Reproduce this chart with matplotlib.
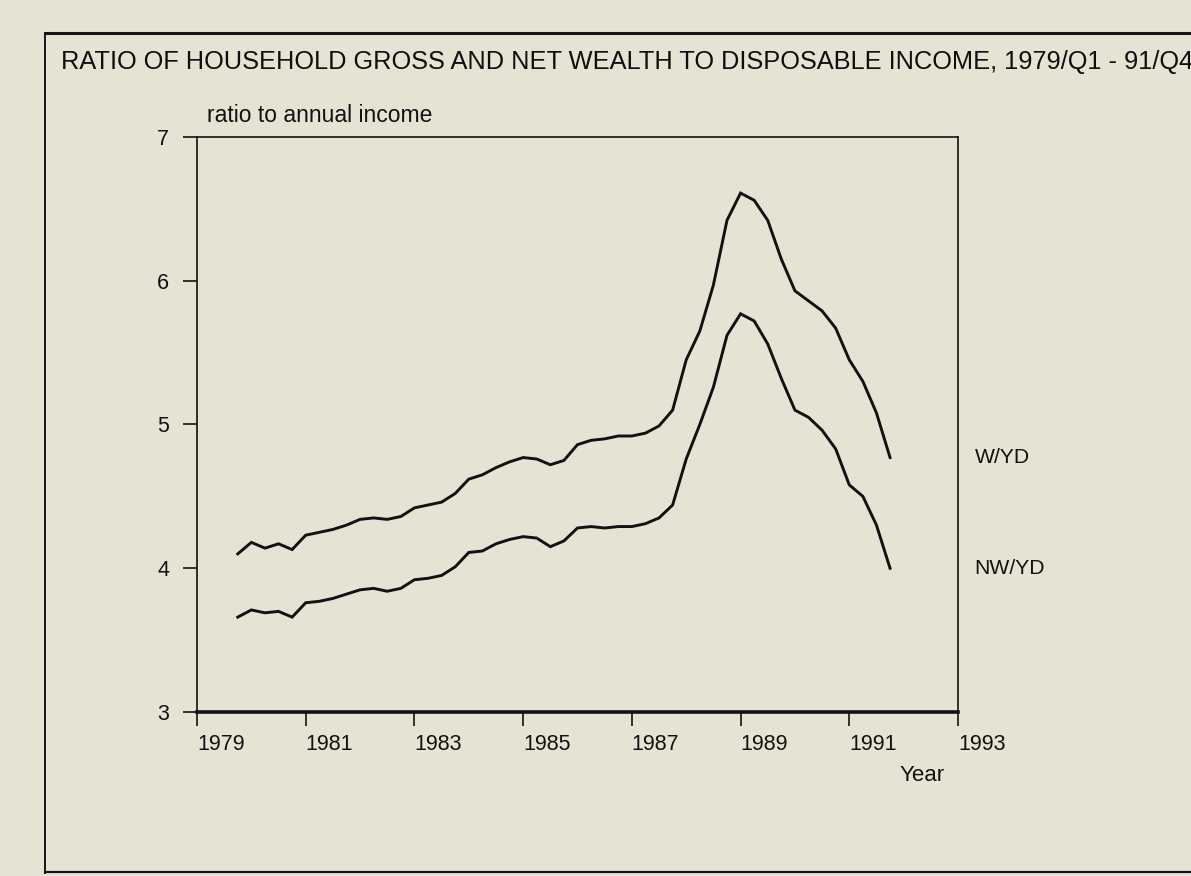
import matplotlib
matplotlib.use("Agg")
import matplotlib.pyplot as plt
import pandas as pd
from matplotlib.lines import Line2D

plt.rcParams['font.family'] = ['Liberation Sans', 'DejaVu Sans']

BG = '#e5e4d4'

# quarterly observations, 1979Q4 .. 1991Q4
QUARTERS = pd.period_range('1979Q4', '1991Q4', freq='Q')
W_YD = [4.10, 4.18, 4.14, 4.17, 4.13,
        4.23, 4.25, 4.27, 4.30,
        4.34, 4.35, 4.34, 4.36,
        4.42, 4.44, 4.46, 4.52,
        4.62, 4.65, 4.70, 4.74,
        4.77, 4.76, 4.72, 4.75,
        4.86, 4.89, 4.90, 4.92,
        4.92, 4.94, 4.99, 5.10,
        5.45, 5.65, 5.97, 6.42,
        6.61, 6.56, 6.42, 6.15,
        5.93, 5.86, 5.79, 5.67,
        5.45, 5.30, 5.08, 4.77]
NW_YD = [3.66, 3.71, 3.69, 3.70, 3.66,
         3.76, 3.77, 3.79, 3.82,
         3.85, 3.86, 3.84, 3.86,
         3.92, 3.93, 3.95, 4.01,
         4.11, 4.12, 4.17, 4.20,
         4.22, 4.21, 4.15, 4.19,
         4.28, 4.29, 4.28, 4.29,
         4.29, 4.31, 4.35, 4.44,
         4.76, 5.00, 5.26, 5.62,
         5.77, 5.72, 5.56, 5.32,
         5.10, 5.05, 4.96, 4.83,
         4.58, 4.50, 4.30, 4.00]
SERIES_NAMES = ['W/YD', 'NW/YD']
X_TICKS = [1979, 1981, 1983, 1985, 1987, 1989, 1991, 1993]
Y_TICKS = [3, 4, 5, 6, 7]

t = QUARTERS.year + (QUARTERS.quarter - 1) / 4.0

fig = plt.figure(figsize=(11.91, 8.76), dpi=100, facecolor=BG)

# page frame
fig.add_artist(Line2D([0.038, 1.0], [0.962, 0.962], color='#151515', lw=2.2))
fig.add_artist(Line2D([0.038, 0.038], [0.003, 0.962], color='#151515', lw=1.4))
fig.add_artist(Line2D([0.038, 1.0], [0.004, 0.004], color='#151515', lw=1.6))

fig.text(0.051, 0.929,
         'RATIO OF HOUSEHOLD GROSS AND NET WEALTH TO DISPOSABLE INCOME, 1979/Q1 - 91/Q4',
         fontsize=18.3, va='center', ha='left', color='#0e0e0e')

ax = fig.add_axes([197 / 1191, 1 - 712 / 876, (958 - 197) / 1191, (712 - 137) / 876])
ax.set_facecolor(BG)

for vals, name in zip([W_YD, NW_YD], SERIES_NAMES):
    ax.plot(t, vals, color='#111111', lw=2.1, solid_joinstyle='miter')
    ax.annotate(name, xy=(1.0, vals[-1]), xycoords=('axes fraction', 'data'),
                xytext=(12, 0), textcoords='offset points',
                fontsize=15.2, va='center', ha='left', color='#111111')

ax.set_xlim(1979, 1993)
ax.set_ylim(3, 7)
ax.set_xticks(X_TICKS)
ax.set_yticks(Y_TICKS)
ax.tick_params(direction='out', length=10, width=1.2, labelsize=15.5,
               colors='#111111', pad=10)
ax.tick_params(axis='x', pad=6)
for lab in ax.get_xticklabels():
    lab.set_horizontalalignment('left')
for side in ['left', 'right', 'top']:
    ax.spines[side].set_linewidth(1.2)
    ax.spines[side].set_color('#111111')
ax.spines['bottom'].set_linewidth(2.6)
ax.spines['bottom'].set_color('#111111')

ax.text(0.013, 1.037, 'ratio to annual income', transform=ax.transAxes,
        fontsize=16.5, ha='left', va='center', color='#111111')
ax.text(0.983, -0.11, 'Year', transform=ax.transAxes,
        fontsize=16, ha='right', va='center', color='#111111')

fig.savefig('out.png', dpi=100, facecolor=BG)
